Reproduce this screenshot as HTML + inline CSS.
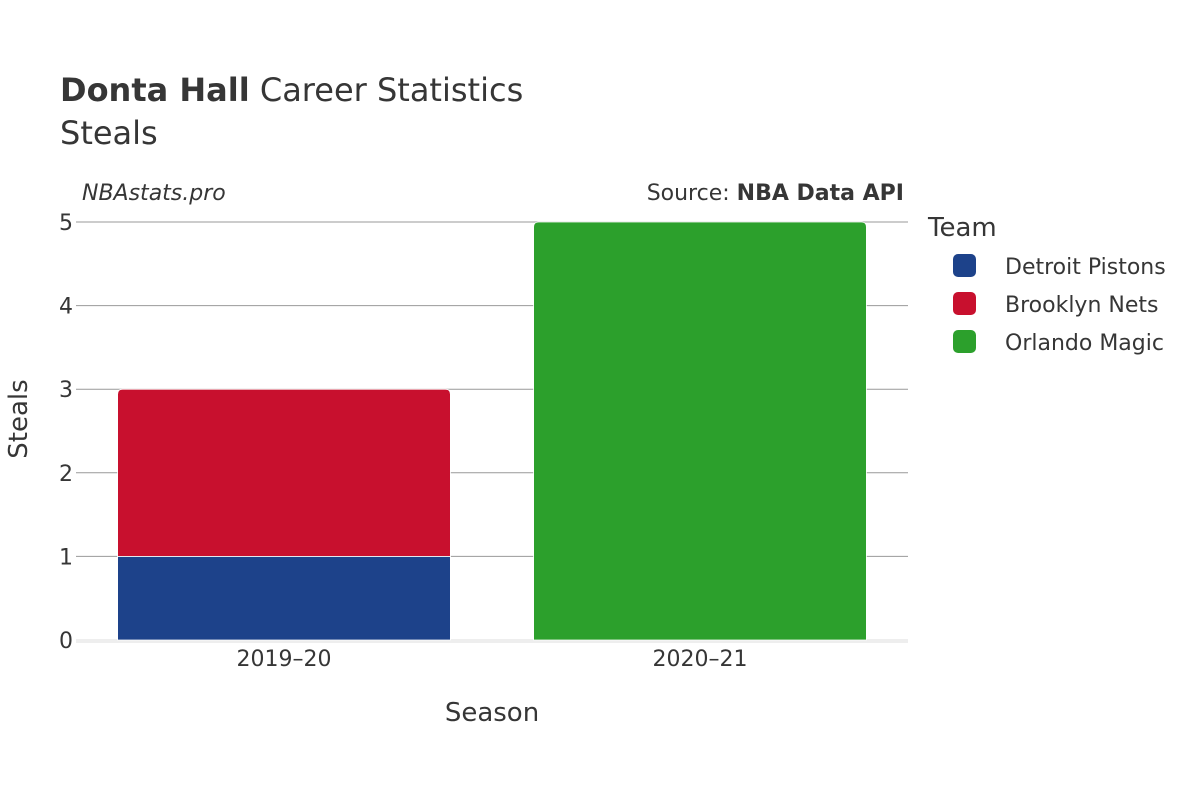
<!DOCTYPE html>
<html><head><meta charset="utf-8"><style>
body{margin:0;background:#fff;}
svg{display:block;font-family:"DejaVu Sans","Liberation Sans",sans-serif;}
</style></head><body>
<svg id="chart" width="1200" height="800" viewBox="0 0 1200 800">
<text x="60" y="101" font-size="32" fill="#363636"><tspan font-weight="bold">Donta Hall</tspan> Career Statistics</text>
<text x="60" y="144" font-size="32" fill="#363636">Steals</text>
<text x="82" y="200" font-size="22" font-style="italic" fill="#363636">NBAstats.pro</text>
<text x="904" y="200" font-size="22" text-anchor="end" fill="#363636">Source: <tspan font-weight="bold">NBA Data API</tspan></text>
<g id="grid"></g>
<g id="bars"></g>
<g id="yticks"></g>
<g id="xticks"></g>
<text x="492" y="721" font-size="26" text-anchor="middle" fill="#363636">Season</text>
<text transform="translate(27,419) rotate(-90)" font-size="26" text-anchor="middle" fill="#363636">Steals</text>
<text x="928" y="236" font-size="26" fill="#363636">Team</text>
<g id="legend"></g>
</svg>
<script>
const seasons=["2019–20","2020–21"];
const teams=["Detroit Pistons","Brooklyn Nets","Orlando Magic"];
const colors=["#1d428a","#c8102e","#2ca02c"];
const pistons=[1,0];
const nets=[2,0];
const magic=[0,5];
const yTicks=[0,1,2,3,4,5];
const series=[pistons,nets,magic];
const NS="http://www.w3.org/2000/svg";
const x0=76,x1=908,yTop=222,yBot=640,yMax=5;
const y=v=>yBot-(v/yMax)*(yBot-yTop);
const band=(x1-x0)/seasons.length;
const xc=i=>x0+band*(i+0.5);
const bw=band*0.8;
function mk(t,a,p){const e=document.createElementNS(NS,t);for(const k in a)e.setAttribute(k,a[k]);(p||document.getElementById('chart')).appendChild(e);return e;}
const grid=document.getElementById('grid'),yt=document.getElementById('yticks');
yTicks.forEach(v=>{
 if(v>0){const l=mk('line',{x1:x0,x2:x1,y1:y(v),y2:y(v),stroke:'#999','stroke-width':1},grid);
 
 }
 const t=mk('text',{x:73,y:y(v)+8,'font-size':22,'text-anchor':'end',fill:'#363636'},yt);t.textContent=v;
 
 
});
const zl=mk('line',{x1:x0,x2:x1,y1:yBot+1,y2:yBot+1,stroke:'#eee','stroke-width':4},grid);


const bars=document.getElementById('bars');
seasons.forEach((s,i)=>{
 let base=0;const tot=series.reduce((a,sr)=>a+sr[i],0);let acc=0;
 series.forEach((sr,j)=>{
  const v=sr[i];if(!v)return;
  acc+=v;const top=acc===tot;
  const xa=xc(i)-bw/2,ya=y(base+v),h=y(base)-y(base+v),r=top?5:0;
  const d=`M${xa},${ya+h} V${ya+r} Q${xa},${ya} ${xa+r},${ya} H${xa+bw-r} Q${xa+bw},${ya} ${xa+bw},${ya+r} V${ya+h} Z`;
  const p=mk('path',{d:d,fill:colors[j],stroke:'#fff','stroke-width':0.8},bars);
  
  
  base+=v;
 });
 const t=mk('text',{x:xc(i),y:666,'font-size':22,'text-anchor':'middle',fill:'#363636'},document.getElementById('xticks'));t.textContent=s;
 
 
});
const lg=document.getElementById('legend');
teams.forEach((tm,j)=>{
 const yy=266+j*38;
 const g=mk('g',{},lg);
 
 
 mk('rect',{x:953,y:yy-12,width:23,height:23,rx:5,fill:colors[j]},g);
 const t=mk('text',{x:1005,y:yy+8,'font-size':22,fill:'#363636'},g);t.textContent=tm;
});
</script>
</body></html>
